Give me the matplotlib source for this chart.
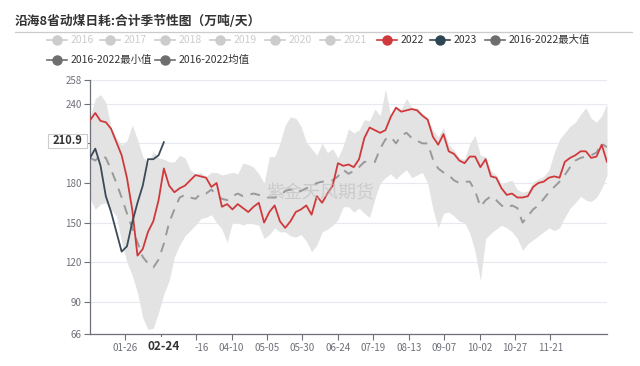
import numpy as np
import pandas as pd
import matplotlib
matplotlib.use('Agg')
import matplotlib.pyplot as plt
import matplotlib.transforms as mtransforms
from matplotlib.lines import Line2D
from matplotlib.patches import Rectangle

plt.rcParams['font.family'] = ['Noto Sans CJK SC', 'DejaVu Sans']

# ---- data (one sample every ~3.7 days) ----
max_vals = [229, 244, 247, 241, 222, 214, 209, 212, 224, 213, 200, 195, 204, 199, 198, 196, 196, 201,
            199, 190, 187, 188, 185, 188, 188, 186, 187, 188, 187, 195, 194, 192, 187, 180, 200, 200,
            210, 224, 230, 229, 223, 211, 206, 201, 210, 203, 206, 199, 208, 221, 218, 220, 228, 227,
            236, 231, 251, 231, 238, 236, 244, 237, 237, 233, 229, 220, 215, 222, 209, 205, 199, 198,
            210, 216, 201, 200, 189, 186, 179, 181, 182, 175, 173, 174, 181, 183, 185, 190, 203, 213,
            218, 223, 226, 232, 237, 229, 226, 231, 240]
min_vals = [168, 160, 164, 165, 160, 155, 135, 120, 110, 97, 78, 69, 70, 82, 96, 106, 124, 133,
            140, 144, 148, 153, 154, 156, 150, 145, 135, 150, 150, 148, 150, 149, 148, 138, 141, 146,
            143, 143, 140, 139, 141, 136, 128, 133, 143, 145, 148, 152, 162, 162, 158, 161, 157, 154,
            168, 180, 184, 187, 183, 187, 190, 184, 186, 188, 180, 160, 146, 157, 158, 155, 151, 150,
            142, 128, 106, 138, 142, 145, 148, 146, 143, 138, 129, 134, 137, 140, 143, 146, 144, 146,
            154, 161, 165, 170, 167, 166, 169, 176, 186]
mean_vals = [199, 197, 201, 199, 190, 180, 169, 157, 146, 135, 124, 119, 116, 122, 134, 150, 160, 169,
             171, 169, 168, 172, 172, 175, 171, 168, 167, 170, 172, 170, 171, 172, 171, 169, 169, 169,
             170, 174, 175, 173, 174, 176, 177, 180, 181, 181, 182, 185, 190, 187, 189, 192, 196, 196,
             196, 206, 213, 215, 210, 216, 218, 214, 212, 210, 210, 198, 191, 188, 186, 182, 180, 181,
             181, 174, 162, 167, 170, 167, 163, 161, 163, 161, 150, 155, 160, 163, 168, 173, 177, 181,
             186, 192, 197, 199, 200, 201, 203, 210, 207]
vals_2022 = [227.5, 233, 227, 226, 221, 211, 201, 184, 160, 125, 130, 143, 151, 167, 191, 178, 173, 176,
             178, 182, 186, 185, 184, 177, 180, 162, 164, 160, 164, 161, 158, 162, 165, 150, 158, 163,
             151, 146, 151, 158, 160, 163, 156, 170, 165, 172, 178, 195, 193, 194, 192, 198, 214, 222,
             220, 218, 220, 230, 237, 234, 235, 236, 235, 231, 228, 215, 209, 217, 204, 202, 197, 195,
             200, 200, 192, 198, 185, 184, 176, 171, 172, 169, 169, 170, 177, 180, 181, 184, 185, 184,
             196, 199, 201, 204, 204, 199, 200, 209, 196]
vals_2023 = [199, 206, 193, 170, 158, 143, 128, 132, 150, 165, 178, 198, 198, 201, 210.9]

days = np.linspace(0, 365, len(max_vals))
tick_days = np.arange(25, 326, 25)
tick_labels = [(pd.Timestamp('2020-01-01') + pd.Timedelta(days=int(d))).strftime('%m-%d') for d in tick_days]
# 02-20 sits under the 02-24 pointer box, 03-16 is half hidden by it
tick_labels[1] = ''
tick_labels[2] = tick_labels[2][2:]
y_ticks = [66, 90, 120, 150, 180, 210, 240, 258]

legend_items = [('2016', '#cccccc', '#cccccc'), ('2017', '#cccccc', '#cccccc'), ('2018', '#cccccc', '#cccccc'),
                ('2019', '#cccccc', '#cccccc'), ('2020', '#cccccc', '#cccccc'), ('2021', '#cccccc', '#cccccc'),
                ('2022', '#d0393b', '#333333'), ('2023', '#2f4554', '#333333'),
                ('2016-2022最大值', '#6e6e6e', '#333333'),
                ('2016-2022最小值', '#6e6e6e', '#333333'), ('2016-2022均值', '#6e6e6e', '#333333')]

W, H = 640, 366
fig = plt.figure(figsize=(W / 100, H / 100), dpi=100)


def fx(px):
    return px / W


def fy(py):
    return 1 - py / H


ax = fig.add_axes([fx(90), fy(333.5), fx(607) - fx(90), fy(80) - fy(333.5)])

ax.fill_between(days, min_vals, max_vals, color='#e3e3e3', lw=0, zorder=1)
ax.plot(days, mean_vals, color='#999999', lw=1.4, dashes=(5, 4), zorder=2)
ax.plot(days, vals_2022, color='#d0393b', lw=1.3, zorder=3)
ax.plot(days[:len(vals_2023)], vals_2023, color='#3a4a58', lw=1.3, zorder=4)

ax.set_xlim(0, 365)
ax.set_ylim(66, 258)
ax.set_yticks(y_ticks)
ax.set_yticklabels(['' if t == 210 else str(t) for t in y_ticks])
ax.set_xticks(tick_days)
ax.set_xticklabels(tick_labels)
ax.tick_params(axis='both', labelsize=7, colors='#6e7079', length=4, width=0.8, pad=2)
ax.tick_params(axis='x', pad=3)
shift = mtransforms.ScaledTranslation(6 / 100, 0, fig.dpi_scale_trans)
lab = ax.get_xticklabels()[2]
lab.set_transform(lab.get_transform() + shift)
ax.grid(axis='y', color='#e6e9f0', lw=0.8)
ax.set_axisbelow(True)
for s in ['top', 'right']:
    ax.spines[s].set_visible(False)
for s in ['left', 'bottom']:
    ax.spines[s].set_color('#6e7079')
    ax.spines[s].set_linewidth(0.9)

# watermark
ax.text(0.445, 0.555, '紫金天风期货', transform=ax.transAxes, fontsize=13, color='#bbbbbb',
        alpha=0.6, ha='center', va='center', zorder=5)

# title + separator
fig.text(fx(15), fy(21), '沿海8省动煤日耗:合计季节性图（万吨/天）', fontsize=9.2, fontweight='bold',
         color='#333333', ha='left', va='center')
fig.add_artist(Line2D([fx(15), fx(632)], [fy(32), fy(32)], color='#cccccc', lw=0.9))

# legend
starts = [(47, 40), (100, 40), (155, 40), (210, 40), (265, 40), (320, 40), (377, 40), (430, 40), (485, 40),
          (47, 60), (155, 60)]
for (label, c, tc), (x0, y0) in zip(legend_items, starts):
    fig.add_artist(Line2D([fx(x0), fx(x0 + 20)], [fy(y0), fy(y0)], color=c, lw=1.2))
    fig.add_artist(Line2D([fx(x0 + 10)], [fy(y0)], marker='o', markersize=6.5, color=c, lw=0))
    fig.text(fx(x0 + 24), fy(y0), label, fontsize=7.5, color=tc, ha='left', va='center')

# axis pointer labels
fig.add_artist(Rectangle((fx(48), fy(148)), fx(87) - fx(48), fy(134) - fy(148), facecolor='white',
                         edgecolor='#cccccc', lw=0.8))
fig.text(fx(67.5), fy(141), '210.9', fontsize=8, fontweight='bold', color='#333333', ha='center', va='center')
fig.add_artist(Rectangle((fx(140), fy(356)), fx(189) - fx(140), fy(337) - fy(356), facecolor='white',
                         edgecolor='none'))
fig.text(fx(164), fy(346), '02-24', fontsize=8.5, fontweight='bold', color='#333333', ha='center', va='center')

fig.savefig('out.png', dpi=100)
